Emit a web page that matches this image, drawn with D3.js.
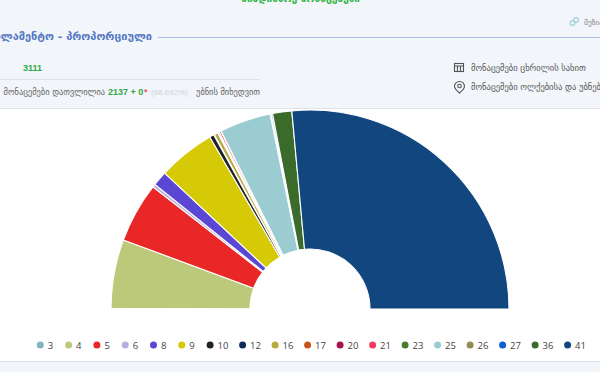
<!DOCTYPE html>
<html lang="ka">
<head>
<meta charset="utf-8">
<style>
html,body{margin:0;padding:0;background:#f2f5f9;overflow:hidden}
svg{display:block}
text{font-family:"DejaVu Sans","Noto Sans",sans-serif}
.num{font-family:"Liberation Sans",Arial,sans-serif}
.legend text{font-family:"Open Sans","Noto Sans",sans-serif}
</style>
</head>
<body>
<svg id="c" width="600" height="372"></svg>
<script src="https://cdn.jsdelivr.net/npm/d3@7/dist/d3.min.js"></script>
<script>
const categories = ["3","4","5","6","8","9","10","12","16","17","20","21","23","25","26","27","36","41"];
const values = [0.2,20.1,17.6,0.9,4.3,16.7,1.3,0.2,1.1,0.3,0.2,0.5,0.1,15,0.3,0.4,5.6,95.3];
const colors = ["#7fb5bd","#bcc97a","#e92727","#b9aee0","#5a48d4","#d6c906","#222222","#0f2a55","#b5aa3c","#c8541c","#a8124e","#f5385f","#4b7a2a","#9accd2","#958a50","#0a5fd0","#3a6b2a","#12467f"];

const svg = d3.select("#c");
const page = svg.append("g");
page.append("rect").attr("x",0).attr("y",109).attr("width",600).attr("height",252).attr("fill","#fff");
page.append("line").attr("x1",0).attr("x2",600).attr("y1",108.5).attr("y2",108.5).attr("stroke","#dfe3e8");
page.append("line").attr("x1",0).attr("x2",600).attr("y1",361.5).attr("y2",361.5).attr("stroke","#dfe3e8");

function label(x,y,s,o={}){
  return page.append("text").attr("x",x).attr("y",y).text(s)
    .attr("class",o.cls||null)
    .attr("font-size",o.size||9).attr("font-weight",o.weight||"normal")
    .attr("fill",o.fill||"#666").attr("text-anchor",o.anchor||"start");
}
label(360,2,"მიმდინარე მონაცემები",{size:10,weight:"bold",fill:"#2fb344",anchor:"end"});
label(152,40,"პარლამენტო - პროპორციული",{size:11,weight:"bold",fill:"#5578c4",anchor:"end"});
page.append("line").attr("x1",158).attr("x2",600).attr("y1",37.5).attr("y2",37.5).attr("stroke","#a9c0ec").attr("stroke-width",1.2);
label(23,71,"3111",{size:9,weight:"bold",fill:"#2fa84a",cls:"num"});
page.append("line").attr("x1",0).attr("x2",260).attr("y1",79.5).attr("y2",79.5).attr("stroke","#dde1e6");
label(105,95,"მონაცემები დათვლილია",{size:8.4,fill:"#666",anchor:"end"});
label(108,95,"2137 + 0",{size:9,weight:"bold",fill:"#2fa84a",cls:"num"});
label(144,95,"*",{size:9,weight:"bold",fill:"#f0605a",cls:"num"});
label(151,95,"(68.692%)",{size:8,fill:"#d0d3d6",cls:"num"});
label(260,95,"უბნის მიხედვით",{size:8.4,fill:"#666",anchor:"end"});
label(471,71,"მონაცემები ცხრილის სახით",{size:8.5,fill:"#555"});
label(471,90,"მონაცემები ოლქებისა და უბნების მიხედვით",{size:8.5,fill:"#555"});
label(584,25,"მეზიარება",{size:7.5,fill:"#888"});

// icons
const tbl = page.append("g").attr("fill","none").attr("stroke","#555").attr("stroke-width",1.1);
tbl.append("rect").attr("x",454.5).attr("y",63.5).attr("width",9).attr("height",8);
tbl.append("path").attr("d","M454.5 66H463.5M457.5 66V71.5M460.5 66V71.5");
const pin = page.append("g").attr("fill","none").attr("stroke","#555").attr("stroke-width",1.1);
pin.append("path").attr("d","M459.5 93 C456 90 454.5 88.5 454.5 86.5 A5 5 0 0 1 464.5 86.5 C464.5 88.5 463 90 459.5 93Z");
pin.append("circle").attr("cx",459.5).attr("cy",86).attr("r",1.8);
const link = page.append("g").attr("fill","none").attr("stroke","#9fd0dc").attr("stroke-width",1.2);
link.append("circle").attr("cx",572.5).attr("cy",23).attr("r",2.4);
link.append("circle").attr("cx",576).attr("cy",20).attr("r",2.4);

// half donut
const cx = 310, cy = 309, outer = 199, inner = 60;
const pie = d3.pie().sort(null).startAngle(-Math.PI/2).endAngle(Math.PI/2);
const arc = d3.arc().innerRadius(inner).outerRadius(outer);
svg.append("g").attr("transform",`translate(${cx},${cy})`)
  .selectAll("path").data(pie(values)).join("path")
  .attr("d",arc)
  .attr("fill",(d,i)=>colors[i])
  .attr("stroke","#fff").attr("stroke-width",1.1);

// legend
const legend = svg.append("g").attr("class","legend");
let lx = 40.3;
categories.forEach((c,i)=>{
  legend.append("circle").attr("cx",lx).attr("cy",345).attr("r",3.5).attr("fill",colors[i]);
  legend.append("text").attr("x",lx+7.5).attr("y",348.5).attr("font-size",9.5).attr("fill","#444").text(c);
  lx += c.length===1 ? 28.3 : 32.5;
});
</script>
</body>
</html>
